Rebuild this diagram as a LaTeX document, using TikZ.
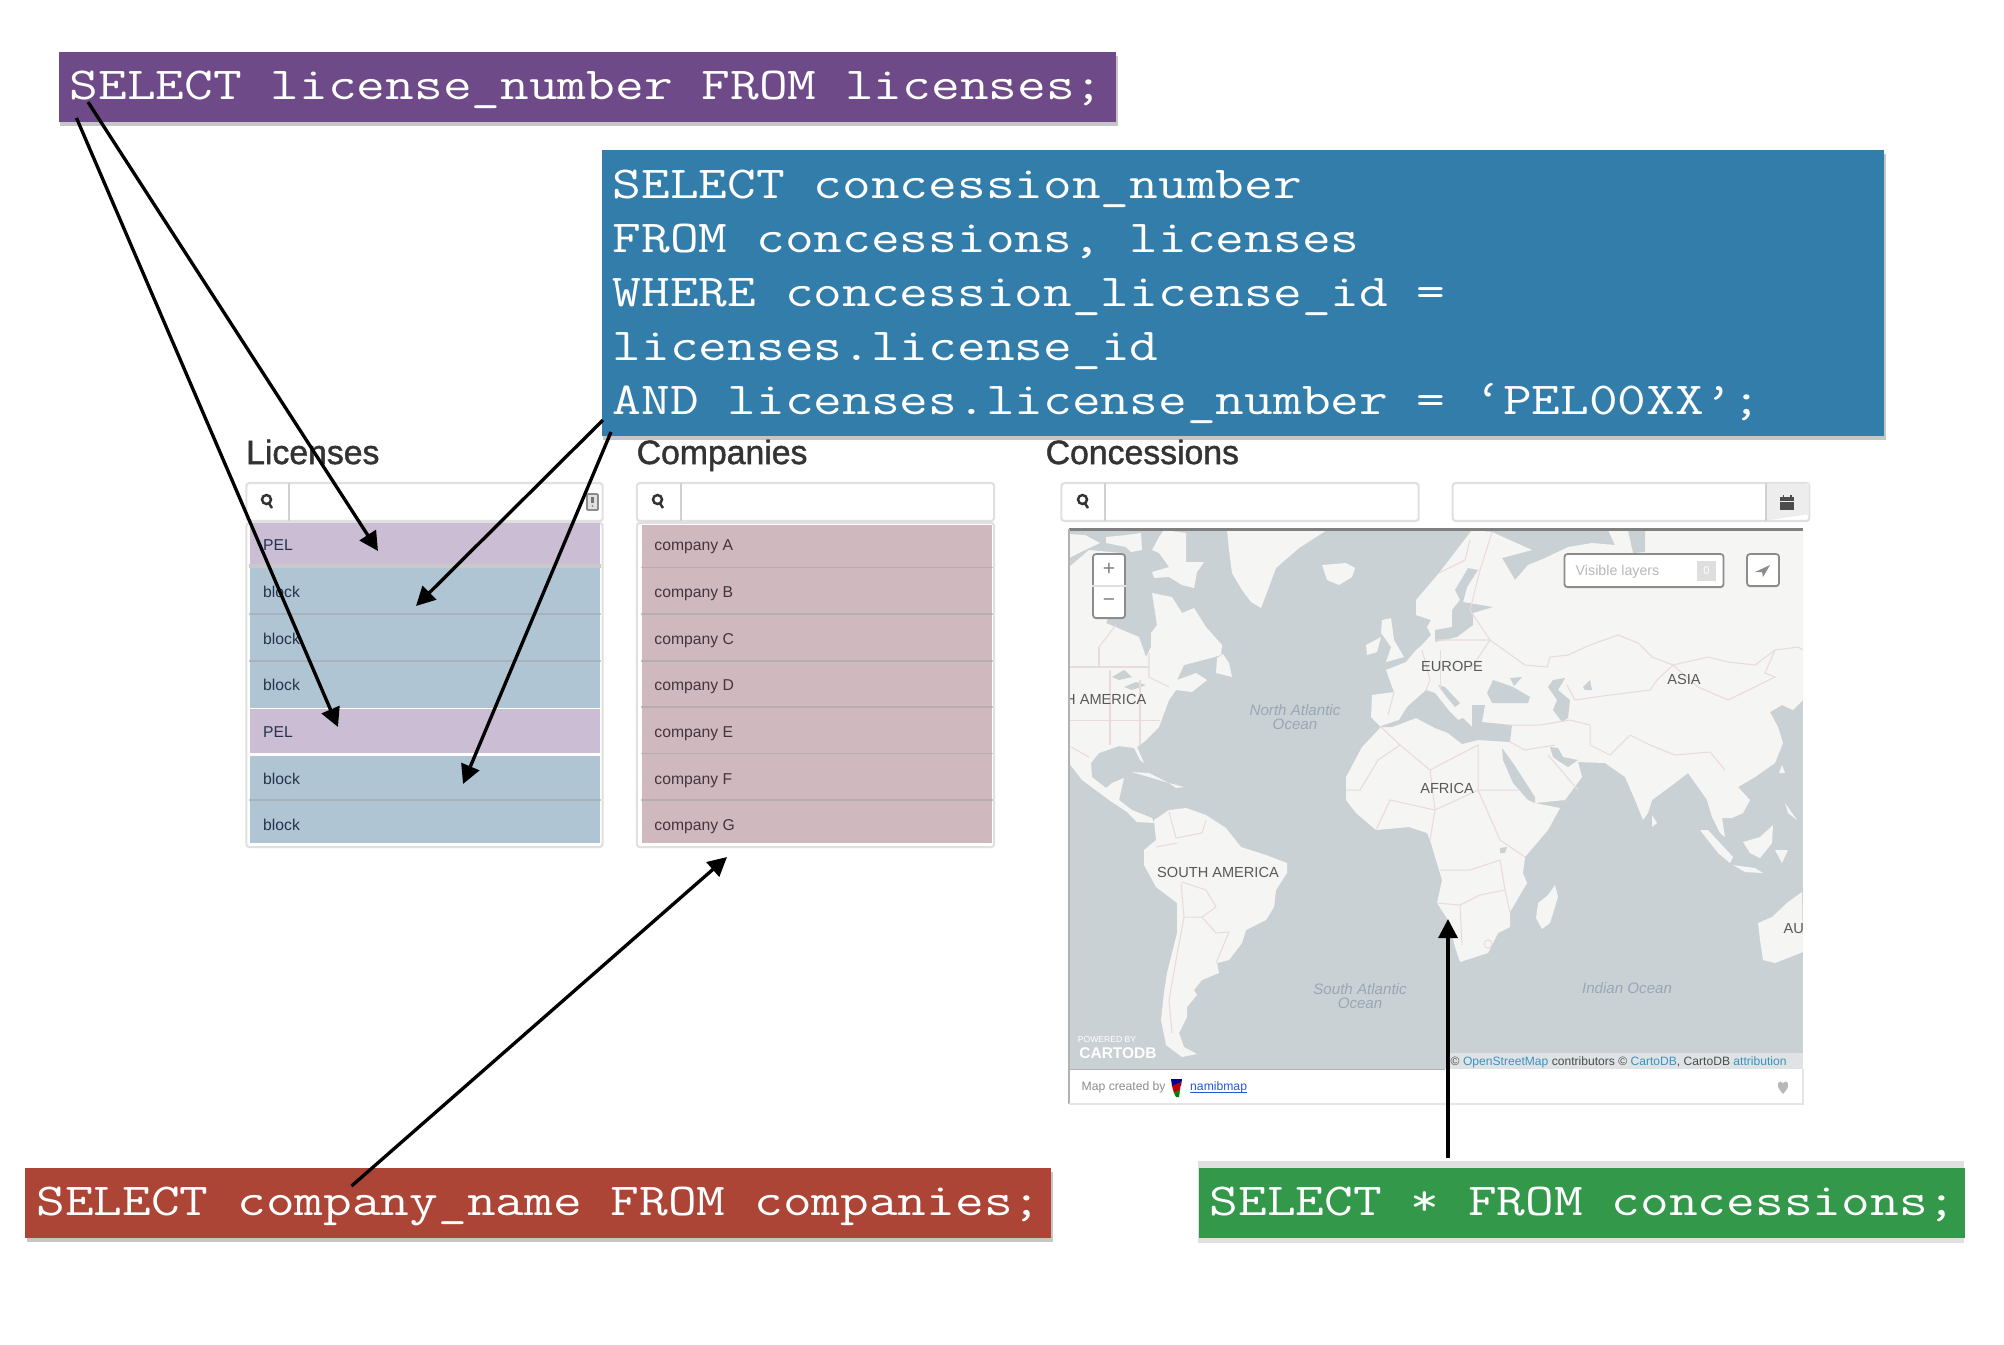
\documentclass[tikz,border=0pt]{standalone}
\usepackage{fontspec}
\setmainfont{Liberation Sans}
\setmonofont[FakeStretch=1.22]{Latin Modern Mono}
\newfontfamily\titlefont[FakeBold=1.4]{Liberation Sans}
\usetikzlibrary{arrows.meta,shadows}

\definecolor{sqlpurple}{HTML}{6F4A89}
\definecolor{sqlblue}{HTML}{337DAB}
\definecolor{sqlred}{HTML}{AC4536}
\definecolor{sqlgreen}{HTML}{33984A}
\definecolor{rowblue}{HTML}{AFC5D3}
\definecolor{rowmauve}{HTML}{CBBDD4}
\definecolor{rowpink}{HTML}{CFB9BF}
\definecolor{seablue}{HTML}{CAD1D4}
\definecolor{landgrey}{HTML}{F5F5F3}
\definecolor{borderpink}{HTML}{EBDADD}
\definecolor{linkblue}{HTML}{3A93BD}
\definecolor{oceantext}{HTML}{98A7B6}
\definecolor{rowink}{HTML}{27324F}
\definecolor{compink}{HTML}{43343F}

\tikzset{
  sqlbox/.style={anchor=north west,text=white,inner xsep=.11cm,inner ysep=0,align=flush left,
    font=\ttfamily\fontsize{13}{15.36}\selectfont\frenchspacing\spaceskip 8.163pt\relax},
  sqlline/.style={sqlbox,text height=.36cm,text depth=.10cm},
  sqlshadow/.style={drop shadow={shadow xshift=.5pt,shadow yshift=-1.3pt,opacity=.45}},
  sqlarrow/.style={-{Triangle[length=.19cm,width=.19cm]},line width=.95pt},
  paneltitle/.style={anchor=base west,inner sep=0,text=black!80,font=\titlefont\fontsize{9.6}{10}\selectfont},
  panelbox/.style={draw=black!12,fill=white,rounded corners=.03cm,inner sep=0,line width=.6pt},
  divider/.style={draw=black!18,line width=.5pt},
  glass/.style={draw=black!80,line width=.7pt},
  blockrow/.style={fill=rowblue,minimum width=3.5cm,inner sep=0},
  pelrow/.style={fill=rowmauve,minimum width=3.5cm,inner sep=0},
  comprow/.style={fill=rowpink,minimum width=3.5cm,inner sep=0},
  rowline/.style={draw=black!35,opacity=.6,line width=.5pt},
  rowtext/.style={anchor=base west,inner sep=0,text=rowink,font=\fontsize{4.47}{5}\selectfont},
  comptext/.style={rowtext,text=compink},
  land/.style={fill=landgrey},
  sea/.style={fill=seablue},
  border/.style={draw=borderpink,line width=.3pt},
  place/.style={inner sep=0,text=black!65,font=\fontsize{4.15}{5}\selectfont},
  ocean/.style={inner sep=0,align=center,text=oceantext,font=\itshape\fontsize{4.3}{4.2}\selectfont},
  mapctl/.style={draw=black!45,fill=white,rounded corners=.03cm,inner sep=0,line width=.5pt,
    drop shadow={shadow xshift=0pt,shadow yshift=-.4pt,opacity=.3}}
}

\begin{document}
\begin{tikzpicture}[x=.01cm,y=-.01cm]
\useasboundingbox (0,0) rectangle (2004,1344);

\node [paneltitle] (lictitle) at (245.5,464) {Licenses};
\node [paneltitle] (comptitle) at (636,464) {Companies};
\node [paneltitle] (conctitle) at (1045,464) {Concessions};

\node [panelbox,minimum width=3.56cm,minimum height=.38cm] (licsearch) at (424.5,502) {};
\node [panelbox,minimum width=3.57cm,minimum height=.38cm] (compsearch) at (815.5,502) {};
\node [panelbox,minimum width=3.57cm,minimum height=.38cm] (concsearch) at (1240,502) {};
\node [panelbox,minimum width=3.565cm,minimum height=.38cm] (datesearch) at (1631,502) {};
\fill [black!7] (1766,483.5) -- (1806,483.5) arc (90:0:3) -- (1809,517.5) arc (0:-90:3) -- (1766,520.5) -- cycle;
\path [divider] (289,483) -- (289,521);
\path [divider] (681,483) -- (681,521);
\path [divider] (1105,483) -- (1105,521);
\path [divider] (1766,483) -- (1766,521);

\draw [glass] (266.5,499.5) circle (4.5);
\draw [glass] (269,503.5) -- (272,508);
\draw [glass] (657.5,499.5) circle (4.5);
\draw [glass] (660,503.5) -- (663,508);
\draw [glass] (1082.5,499.5) circle (4.5);
\draw [glass] (1085,503.5) -- (1088,508);

\draw [black!45,fill=black!12,line width=.5pt,rounded corners=.01cm] (587,494) rectangle (598,510);
\draw [black!55,line width=.6pt] (592.5,497) -- (592.5,503);
\fill [black!55] (592.5,506) circle (.9);

\fill [black!70] (1780,497) rectangle (1794,500.5);
\fill [black!70] (1780,502) rectangle (1794,509.5);
\fill [black!70] (1782.5,494.5) rectangle (1784,497);
\fill [black!70] (1790,494.5) rectangle (1791.5,497);

\node [panelbox,minimum width=3.56cm,minimum height=3.24cm] (liclist) at (424.5,685) {};
\node [panelbox,minimum width=3.57cm,minimum height=3.24cm] (complist) at (815.5,685) {};

\begin{scope}
    \node [pelrow,minimum height=.413cm] (la) at (425,543.4) {};
    \node [blockrow,minimum height=.47cm] (lb) at (425,591.5) {};
    \node [blockrow,minimum height=.467cm] (lc) at (425,638.4) {};
    \node [blockrow,minimum height=.46cm] (ld) at (425,684.7) {};
    \node [pelrow,minimum height=.44cm] (le) at (425,731) {};
    \node [blockrow,minimum height=.45cm] (lf) at (425,778.5) {};
    \node [blockrow,minimum height=.42cm] (lg) at (425,822) {};

    \path [rowline] (la.south west) -- (la.south east);
    \path [rowline] (lb.north west) -- (lb.north east);
    \path [rowline] (lc.north west) -- (lc.north east);
    \path [rowline] (ld.north west) -- (ld.north east);
    \path [rowline] (lg.north west) -- (lg.north east);

    \node [rowtext] (lat) at (262.5,550.7) {PEL};
    \node [rowtext] (lbt) at (262.5,597.4) {block};
    \node [rowtext] (lct) at (262.5,644) {block};
    \node [rowtext] (ldt) at (262.5,690.7) {block};
    \node [rowtext] (let) at (262.5,737.4) {PEL};
    \node [rowtext] (lft) at (262.5,784) {block};
    \node [rowtext] (lgt) at (262.5,830.7) {block};

    \node [comprow,minimum height=.433cm] (ca) at (817,546.6) {};
    \node [comprow,minimum height=.467cm] (cb) at (817,591.6) {};
    \node [comprow,minimum height=.467cm] (cc) at (817,638.3) {};
    \node [comprow,minimum height=.46cm] (cd) at (817,684.7) {};
    \node [comprow,minimum height=.467cm] (ce) at (817,731) {};
    \node [comprow,minimum height=.467cm] (cf) at (817,777.6) {};
    \node [comprow,minimum height=.42cm] (cg) at (817,822) {};

    \path [rowline] (cb.north west) -- (cb.north east);
    \path [rowline] (cc.north west) -- (cc.north east);
    \path [rowline] (cd.north west) -- (cd.north east);
    \path [rowline] (ce.north west) -- (ce.north east);
    \path [rowline] (cf.north west) -- (cf.north east);
    \path [rowline] (cg.north west) -- (cg.north east);

    \node [comptext] (cat) at (653.7,550.7) {company A};
    \node [comptext] (cbt) at (653.7,597.4) {company B};
    \node [comptext] (cct) at (653.7,644) {company C};
    \node [comptext] (cdt) at (653.7,690.7) {company D};
    \node [comptext] (cet) at (653.7,737.4) {company E};
    \node [comptext] (cft) at (653.7,784) {company F};
    \node [comptext] (cgt) at (653.7,830.7) {company G};
\end{scope}

\begin{scope}
    \clip (1069,530) rectangle (1803,1069);
    \fill [sea] (1069,530) rectangle (1803,1069);

    \fill [land] (1069,567) -- (1089,550) -- (1122,553) -- (1126,573) -- (1106,623) -- (1139,637) -- (1146,657) -- (1151,647) -- (1151,633) -- (1157,625) -- (1152,593) -- (1172,597) -- (1182,613) -- (1194,608) -- (1206,627) -- (1222,645) -- (1221,655) -- (1211,658) -- (1184,665) -- (1177,680) -- (1196,673) -- (1207,680) -- (1192,692) -- (1176,690) -- (1169,700) -- (1159,727) -- (1144,742) -- (1137,747) -- (1144,763) -- (1140,760) -- (1134,748) -- (1119,746) -- (1099,753) -- (1091,763) -- (1092,777) -- (1106,788) -- (1112,783) -- (1124,778) -- (1119,800) -- (1132,810) -- (1152,818) -- (1154,823) -- (1137,822) -- (1127,812) -- (1109,800) -- (1082,780) -- (1069,763) -- cycle;
    \fill [land] (1164,530) -- (1186,533) -- (1186,562) -- (1204,562) -- (1197,572) -- (1194,588) -- (1182,585) -- (1169,577) -- (1154,578) -- (1152,572) -- (1169,567) -- (1159,553) -- (1152,550) -- (1159,537) -- cycle;
    \fill [land] (1106,537) -- (1126,535) -- (1141,533) -- (1142,550) -- (1131,552) -- (1126,547) -- (1106,543) -- cycle;
    \fill [land] (1069,534) -- (1085,535) -- (1100,543) -- (1085,550) -- (1069,558) -- cycle;
    \fill [land] (1227,530) -- (1327,530) -- (1299,548) -- (1276,568) -- (1269,587) -- (1261,608) -- (1251,602) -- (1242,590) -- (1232,573) -- (1229,550) -- cycle;
    \fill [land] (1217,658) -- (1223,654) -- (1229,663) -- (1232,677) -- (1216,673) -- cycle;
    \fill [land] (1322,565) -- (1346,563) -- (1355,568) -- (1352,577) -- (1339,585) -- (1327,580) -- cycle;
    \fill [land] (1366,645) -- (1381,637) -- (1377,652) -- (1367,655) -- cycle;
    \fill [land] (1382,620) -- (1391,618) -- (1394,640) -- (1404,657) -- (1386,662) -- (1391,647) -- (1381,633) -- cycle;
    \fill [land] (1132,772) -- (1149,773) -- (1169,783) -- (1152,778) -- cycle;
    \fill [land] (1169,783) -- (1184,787) -- (1176,788) -- cycle;
    \fill [sea] (1112,677) -- (1124,670) -- (1132,677) -- (1119,680) -- cycle;
    \fill [sea] (1124,687) -- (1136,682) -- (1146,685) -- (1132,690) -- cycle;

    \fill [land] (1472,530) -- (1492,532) -- (1532,550) -- (1502,558) -- (1515,580) -- (1528,565) -- (1545,558) -- (1568,547) -- (1592,543) -- (1615,545) -- (1608,530) -- (1803,530) -- (1803,700) -- (1793,710) -- (1782,705) -- (1770,712) -- (1778,727) -- (1783,743) -- (1775,763) -- (1755,777) -- (1738,787) -- (1750,800) -- (1743,813) -- (1732,818) -- (1722,818) -- (1725,837) -- (1720,833) -- (1712,817) -- (1707,800) -- (1705,797) -- (1688,773) -- (1675,783) -- (1652,800) -- (1648,813) -- (1643,820) -- (1635,800) -- (1625,777) -- (1605,763) -- (1578,762) -- (1582,777) -- (1565,800) -- (1535,803) -- (1560,808) -- (1548,830) -- (1525,857) -- (1523,873) -- (1527,883) -- (1510,912) -- (1510,927) -- (1498,933) -- (1488,953) -- (1460,962) -- (1455,947) -- (1448,920) -- (1437,903) -- (1442,880) -- (1435,857) -- (1431,843) -- (1427,833) -- (1409,827) -- (1376,830) -- (1356,813) -- (1346,800) -- (1346,777) -- (1362,747) -- (1381,727) -- (1371,717) -- (1372,695) -- (1394,692) -- (1386,670) -- (1406,662) -- (1416,650) -- (1422,645) -- (1431,635) -- (1427,627) -- (1431,620) -- (1416,615) -- (1416,600) -- (1439,573) -- cycle;

    \fill [sea] (1628,530) -- (1645,530) -- (1645,552) -- (1633,553) -- cycle;
    \fill [sea] (1468,568) -- (1478,570) -- (1467,587) -- (1463,602) -- (1493,607) -- (1473,613) -- (1473,625) -- (1457,637) -- (1435,642) -- (1435,630) -- (1452,627) -- (1452,610) -- (1460,600) -- (1455,590) -- cycle;
    \fill [sea] (1381,726) -- (1399,720) -- (1407,707) -- (1426,690) -- (1435,693) -- (1450,712) -- (1458,720) -- (1463,718) -- (1472,727) -- (1472,705) -- (1485,705) -- (1482,722) -- (1512,725) -- (1510,742) -- (1478,740) -- (1462,744) -- (1448,733) -- (1435,728) -- (1416,718) -- (1392,727) -- (1382,727) -- cycle;
    \fill [sea] (1438,685) -- (1445,687) -- (1460,703) -- (1455,707) -- (1445,695) -- cycle;
    \fill [sea] (1487,693) -- (1493,680) -- (1502,683) -- (1513,687) -- (1530,697) -- (1528,703) -- (1492,703) -- cycle;
    \fill [sea] (1510,678) -- (1522,677) -- (1514,686) -- cycle;
    \fill [sea] (1548,687) -- (1553,680) -- (1565,678) -- (1558,690) -- (1570,700) -- (1568,718) -- (1562,722) -- (1553,710) -- (1557,700) -- cycle;
    \fill [sea] (1583,687) -- (1590,680) -- (1592,690) -- (1585,690) -- cycle;
    \fill [sea] (1502,748) -- (1513,763) -- (1535,797) -- (1535,803) -- (1528,800) -- (1513,783) -- (1503,760) -- cycle;
    \fill [sea] (1550,747) -- (1558,748) -- (1563,757) -- (1578,760) -- (1568,767) -- (1560,762) -- (1553,757) -- cycle;
    \fill [sea] (1500,848) -- (1507,847) -- (1505,853) -- (1500,853) -- cycle;

    \fill [land] (1555,885) -- (1558,897) -- (1550,923) -- (1542,929) -- (1536,918) -- (1538,903) -- (1548,895) -- cycle;
    \fill [land] (1154,820) -- (1169,810) -- (1186,808) -- (1206,815) -- (1226,828) -- (1241,847) -- (1266,855) -- (1287,863) -- (1287,873) -- (1276,890) -- (1274,907) -- (1266,920) -- (1246,930) -- (1242,943) -- (1229,960) -- (1217,963) -- (1219,973) -- (1202,980) -- (1194,990) -- (1197,995) -- (1187,1007) -- (1187,1017) -- (1179,1033) -- (1184,1047) -- (1197,1054) -- (1182,1057) -- (1166,1045) -- (1161,1020) -- (1164,992) -- (1167,973) -- (1177,933) -- (1177,903) -- (1156,887) -- (1144,865) -- (1144,850) -- (1156,840) -- cycle;
    \fill [land] (1802,892) -- (1788,902) -- (1772,917) -- (1758,923) -- (1760,940) -- (1763,960) -- (1775,963) -- (1803,952) -- cycle;
    \fill [land] (1700,830) -- (1708,830) -- (1733,857) -- (1730,863) -- (1718,853) -- cycle;
    \fill [land] (1733,865) -- (1755,868) -- (1763,873) -- (1745,872) -- cycle;
    \fill [land] (1743,842) -- (1760,837) -- (1773,825) -- (1772,843) -- (1760,858) -- (1750,853) -- cycle;
    \fill [land] (1775,850) -- (1788,850) -- (1782,863) -- cycle;
    \fill [land] (1785,803) -- (1797,820) -- (1788,813) -- cycle;
    \fill [land] (1782,765) -- (1785,773) -- (1779,773) -- cycle;
    \fill [land] (1652,815) -- (1657,823) -- (1652,827) -- cycle;

    \path [border] (1525,665) -- (1547,667) -- (1550,657) -- (1568,655) -- (1590,645) -- (1618,635) -- (1638,643) -- (1652,657) -- (1673,665) -- (1708,657) -- (1728,662) -- (1755,665) -- (1775,650) -- (1798,647) -- (1803,650);
    \path [border] (1673,665) -- (1698,687) -- (1728,700) -- (1775,677) -- (1765,673) -- (1775,650);
    \path [border] (1567,685) -- (1575,700) -- (1610,695) -- (1650,690) -- (1657,680) -- (1673,665);
    \path [border] (1570,720) -- (1590,725) -- (1590,745) -- (1610,755) -- (1630,735) -- (1650,745) -- (1675,755) -- (1710,752) -- (1725,770);
    \path [border] (1510,725) -- (1540,725) -- (1570,720);
    \path [border] (1510,742) -- (1525,750) -- (1555,745);
    \path [border] (1548,755) -- (1578,790);
    \path [border] (1435,640) -- (1490,640) -- (1525,665);
    \path [border] (1440,650) -- (1440,690);
    \path [border] (1470,670) -- (1490,640) -- (1470,610) -- (1480,570) -- (1492,532);
    \path [border] (1439,573) -- (1465,560) -- (1470,540);
    \path [border] (1394,692) -- (1388,715);
    \path [border] (1422,650) -- (1430,680) -- (1426,690);
    \path [border] (1381,727) -- (1400,745) -- (1378,760) -- (1360,790) -- (1346,790);
    \path [border] (1400,745) -- (1430,770) -- (1478,745) -- (1478,790) -- (1520,790);
    \path [border] (1430,770) -- (1435,810) -- (1478,790) -- (1500,840) -- (1525,857);
    \path [border] (1376,830) -- (1390,800) -- (1435,810) -- (1430,840);
    \path [border] (1440,870) -- (1470,870) -- (1500,860) -- (1505,890) -- (1510,912);
    \path [border] (1437,903) -- (1460,905) -- (1480,895) -- (1505,890);
    \path [border] (1460,905) -- (1462,945);
    \path [border] (1488,944) circle (4);
    \path [border] (1169,812) -- (1176,838) -- (1202,833) -- (1206,820);
    \path [border] (1177,843) -- (1156,847);
    \path [border] (1181,883) -- (1184,917) -- (1202,917) -- (1216,907) -- (1206,890) -- (1182,882);
    \path [border] (1184,917) -- (1176,960) -- (1169,1000) -- (1172,1033);
    \path [border] (1202,917) -- (1216,933) -- (1229,932) -- (1216,963);
    \path [border] (1069,667) -- (1149,667);
    \path [border] (1099,647) -- (1099,667);
    \path [border] (1099,647) -- (1116,625);
    \path [border] (1149,653) -- (1149,677) -- (1169,687);
    \path [border] (1069,720) -- (1160,720);
    \path [border] (1110,670) -- (1110,745);
    \path [border] (1140,680) -- (1140,745);
    \path [border] (1071,747) -- (1089,757);

    \node [place,anchor=east] (namerica) at (1147,699) {H AMERICA};
    \node [place] (europe) at (1452,666) {EUROPE};
    \node [place] (asia) at (1684,679) {ASIA};
    \node [place] (africa) at (1447,788) {AFRICA};
    \node [place] (samerica) at (1218,872) {SOUTH AMERICA};
    \node [place,anchor=west] (australia) at (1783,929) {AU};
    \node [ocean] (natlantic) at (1295,717) {North Atlantic\\Ocean};
    \node [ocean] (satlantic) at (1360,996) {South Atlantic\\Ocean};
    \node [ocean] (indian) at (1627,988) {Indian Ocean};
    \node [inner sep=0,text=white,font=\fontsize{2.45}{3}\selectfont] (powered) at (1107,1040) {POWERED BY};
    \node [inner sep=0,text=white,font=\bfseries\fontsize{4.4}{5}\selectfont] (cartodb) at (1118,1053) {CARTODB};

    \fill [seablue!60!white] (1445.5,1053) rectangle (1803,1069);
\end{scope}

\node [anchor=west,inner sep=0,text=black!70,font=\fontsize{3.44}{4}\selectfont] (attrib) at (1450,1062) {© \textcolor{linkblue}{OpenStreetMap} contributors © \textcolor{linkblue}{CartoDB}, CartoDB \textcolor{linkblue}{attribution}};

\draw [black!50,line width=.6pt] (1069,529.5) -- (1803,529.5);
\draw [black!30,line width=.5pt] (1068.8,529) -- (1068.8,1104);
\draw [black!10,line width=.5pt] (1803,1069) -- (1803,1104) -- (1069,1104);
\draw [black!30,line width=.3pt] (1069,1069) -- (1445,1069);

\node [anchor=west,inner sep=0,text=black!45,font=\fontsize{3.46}{4}\selectfont] (createdby) at (1081,1087) {Map created by};
\fill [blue!60!black] (1171,1079) -- (1182,1079) -- (1181,1086) -- (1172,1086) -- cycle;
\fill [red!75!black] (1172,1086) -- (1181,1082) -- (1180,1090) -- (1174,1093) -- cycle;
\fill [green!50!black] (1174,1093) -- (1180,1090) -- (1179,1097) -- (1176,1097) -- cycle;
\node [anchor=west,inner sep=0,text=linkblue!60!blue,font=\fontsize{3.46}{4}\selectfont] (namibmap) at (1189.5,1087) {namibmap};
\draw [linkblue!60!blue,line width=.25pt] (1189.5,1092) -- (1247,1092);
\fill [black!28] (1783,1094) .. controls (1778,1088) and (1777,1086) .. (1778,1083) .. controls (1779,1081) and (1782,1081) .. (1783,1083) .. controls (1784,1081) and (1787,1081) .. (1788,1083) .. controls (1789,1086) and (1788,1088) .. (1783,1094);

\node [mapctl,minimum width=.32cm,minimum height=.64cm] (zoomctl) at (1109,586) {};
\path [draw=black!12,line width=.4pt] (zoomctl.west) -- (zoomctl.east);
\node [inner sep=0,text=black!50,font=\fontsize{6}{7}\selectfont] (zoomin) at (1109,569) {+};
\node [inner sep=0,text=black!50,font=\fontsize{6}{7}\selectfont] (zoomout) at (1109,603) {−};

\node [mapctl,minimum width=1.59cm,minimum height=.33cm] (layers) at (1644,570.5) {};
\node [anchor=west,inner sep=0,text=black!28,font=\fontsize{4.05}{5}\selectfont] (layerstext) at (1575,572) {Visible layers};
\node [fill=black!13,minimum width=.19cm,minimum height=.2cm,inner sep=0,text=white,font=\fontsize{3.2}{4}\selectfont] (layerscount) at (1706.5,571) {0};
\node [mapctl,minimum width=.32cm,minimum height=.32cm] (locate) at (1763,570) {};
\fill [black!45] (1755,572) -- (1770,565) -- (1763,577) -- (1762,572) -- cycle;

\node [sqlline,sqlshadow,fill=sqlpurple,text width=10.35cm,minimum height=.7cm] (licsql) at (58,51) {\mbox{SELECT license\_number FROM licenses;}};
\node [sqlbox,sqlshadow,fill=sqlblue,text width=12.6cm,minimum height=2.86cm] (concsql) at (601,149) {\rule{0pt}{10.2pt}SELECT concession\_number\\
FROM concessions, licenses\\
WHERE concession\_license\_id =\\
licenses.license\_id\\
AND licenses.license\_number = ‘PEL00XX’;};
\node [sqlline,sqlshadow,fill=sqlred,text width=10.03cm,minimum height=.7cm] (compsql) at (24.6,1167) {\mbox{SELECT company\_name FROM companies;}};
\fill [black!12] (1198,1161) rectangle (1964,1243);
\node [sqlline,fill=sqlgreen,text width=7.44cm,minimum height=.7cm] (allsql) at (1198,1167) {\mbox{SELECT * FROM concessions;}};

\coordinate (licfroma) at (88,102);
\coordinate (licfromb) at (76.5,118);
\coordinate (pelrowa) at (378,551);
\coordinate (pelrowb) at (338,727);
\coordinate (concfroma) at (603,420);
\coordinate (concfromb) at (611,432);
\coordinate (blockrowa) at (416,606);
\coordinate (blockrowb) at (463,784);
\coordinate (compfrom) at (351.5,1186);
\coordinate (compto) at (727,857);
\coordinate (allfrom) at (1448,1158);
\coordinate (allto) at (1448,919);

\draw [sqlarrow] (licfroma) -- (pelrowa);
\draw [sqlarrow] (licfromb) -- (pelrowb);
\draw [sqlarrow] (concfroma) -- (blockrowa);
\draw [sqlarrow] (concfromb) -- (blockrowb);
\draw [sqlarrow] (compfrom) -- (compto);
\draw [sqlarrow] (allfrom) -- (allto);

\end{tikzpicture}
\end{document}
